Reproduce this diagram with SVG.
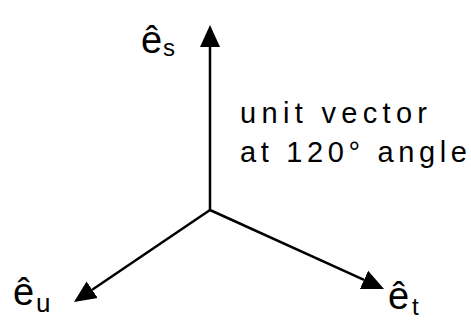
<svg xmlns="http://www.w3.org/2000/svg" width="471" height="320" viewBox="0 0 471 320">
<style>
.ax{stroke:#000;stroke-width:2.5;fill:none}
.lbl{font-family:"Liberation Sans",Arial,sans-serif;fill:#000}
.txt{font-family:"Liberation Sans",Arial,sans-serif;font-size:29px;fill:#000}
</style>
<defs>
<marker id="ah" markerUnits="userSpaceOnUse" markerWidth="22" markerHeight="22" refX="0" refY="10" orient="auto" viewBox="0 0 22 20">
<path d="M0,0 L22,10 L0,20 Z" fill="#000"/>
</marker>
</defs>
<rect width="471" height="320" fill="#fff"/>
<g id="connectors">
<line class="ax" x1="210" y1="210" x2="210" y2="47" marker-end="url(#ah)"/>
<line class="ax" x1="210" y1="210" x2="92.2" y2="289.7" marker-end="url(#ah)"/>
<line class="ax" x1="210" y1="210" x2="364" y2="279.9" marker-end="url(#ah)"/>
</g>
<g id="es"><text class="lbl" x="141" y="53" font-size="38">ê</text><text class="lbl" x="163" y="56" font-size="24">s</text></g>
<g id="eu"><text class="lbl" x="13" y="305" font-size="38">ê</text><text class="lbl" x="36" y="312" font-size="26">u</text></g>
<g id="et"><text class="lbl" x="388" y="309" font-size="38">ê</text><text class="lbl" x="412" y="315" font-size="24">t</text></g>
<g id="note">
<text class="txt" x="240" y="123" textLength="187" lengthAdjust="spacing">unit vector</text>
<text class="txt" x="240" y="162" textLength="227" lengthAdjust="spacing">at 120° angle</text>
</g>
</svg>
